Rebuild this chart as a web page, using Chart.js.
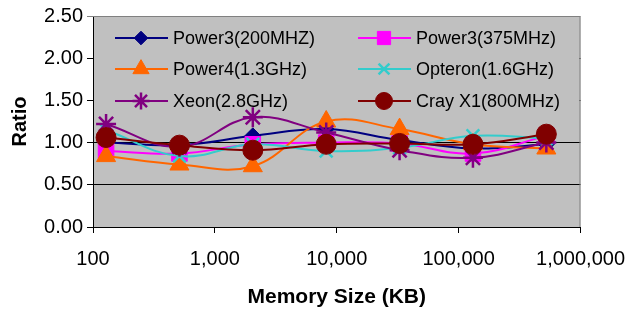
<!DOCTYPE html>
<html>
<head>
<meta charset="utf-8">
<script src="https://cdn.jsdelivr.net/npm/chart.js@4.4.0/dist/chart.umd.min.js"></script>
<style>
  body { margin: 0; background: #fff; }
  #wrap { width: 639px; height: 310px; }
</style>
</head>
<body>
<div id="wrap"><canvas id="ratioChart"></canvas></div>
<script>
// memory sizes in KB
const memSizes = [128, 512, 2048, 8192, 32768, 131072, 524288];

const power3_200 = [1.00, 0.97, 1.08, 1.16, 1.03, 0.93, 0.98];
const power3_375 = [0.90, 0.87, 0.98, 1.00, 0.99, 0.87, 1.08];
const power4 = [0.84, 0.74, 0.72, 1.25, 1.16, 0.98, 0.93];
const opteron = [1.15, 0.84, 0.98, 0.90, 0.94, 1.08, 1.05];
const xeon = [1.22, 0.95, 1.30, 1.12, 0.91, 0.82, 1.00];
const crayX1 = [1.06, 0.97, 0.91, 0.98, 0.99, 0.98, 1.10];

const xTicks = [100, 1000, 10000, 100000, 1000000];
const yMin = 0, yMax = 2.5, yStep = 0.5;

function serie(label, values, color, style, radius, bw) {
    return {
        label: label,
        data: values.map((v, i) => ({ x: memSizes[i], y: v })),
        borderColor: color,
        backgroundColor: color,
        pointBackgroundColor: color,
        pointBorderColor: color,
        pointStyle: style,
        pointRadius: radius,
        pointBorderWidth: bw,
        borderWidth: 2,
        tension: 0.4
    };
}

const datasets = [
    serie('Power3(200MHZ)', power3_200, '#000080', 'rectRot', 8, 1),
    serie('Power3(375MHz)', power3_375, '#FF00FF', 'rect', 11, 1),
    serie('Power4(1.3GHz)', power4, '#FF6600', 'triangle', 11, 1),
    serie('Opteron(1.6GHz)', opteron, '#33CCCC', 'crossRot', 9, 2.5),
    serie('Xeon(2.8GHz)', xeon, '#800080', 'star', 10, 2.5),
    serie('Cray X1(800MHz)', crayX1, '#800000', 'circle', 10, 1)
];
// later series on top, like the original
datasets.forEach((d, i) => { d.order = datasets.length - 1 - i; });

// grey plot area + top/right border
const plotBg = {
    id: 'plotBg',
    beforeDraw(chart) {
        const { ctx, chartArea: a } = chart;
        ctx.save();
        ctx.fillStyle = '#C0C0C0';
        ctx.fillRect(a.left, a.top, a.right - a.left, a.bottom - a.top);
        ctx.restore();
    },
    afterDraw(chart) {
        const { ctx, chartArea: a } = chart;
        ctx.save();
        ctx.strokeStyle = '#808080';
        ctx.lineWidth = 1;
        ctx.beginPath();
        ctx.moveTo(a.left, a.top + 0.5);
        ctx.lineTo(a.right - 0.5, a.top + 0.5);
        ctx.lineTo(a.right - 0.5, a.bottom);
        ctx.stroke();
        ctx.restore();
    }
};

// legend inside the plot, two columns
const insideLegend = {
    id: 'insideLegend',
    beforeDatasetsDraw(chart) {
        const { ctx, chartArea: a } = chart;
        ctx.save();
        ctx.fillStyle = '#C0C0C0';
        ctx.fillRect(a.left + 1, a.top + 1, a.right - a.left - 2, 97);
        const cols = [a.left + 22, a.left + 265];
        const rows = [a.top + 22, a.top + 53, a.top + 85];
        chart.data.datasets.forEach((ds, i) => {
            const x0 = cols[i % 2], y = rows[Math.floor(i / 2)];
            ctx.strokeStyle = ds.borderColor;
            ctx.lineWidth = 2;
            ctx.beginPath();
            ctx.moveTo(x0, y);
            ctx.lineTo(x0 + 53, y);
            ctx.stroke();
            ctx.fillStyle = ds.pointBackgroundColor;
            ctx.lineWidth = ds.pointBorderWidth;
            Chart.helpers.drawPoint(ctx, {
                pointStyle: ds.pointStyle, rotation: 0,
                radius: ds.pointRadius * 0.85, borderWidth: ds.pointBorderWidth
            }, x0 + 26, y);
            ctx.fillStyle = '#000';
            ctx.font = '18px Arial, "Liberation Sans"';
            ctx.textBaseline = 'middle';
            ctx.textAlign = 'left';
            ctx.fillText(ds.label, x0 + 58, y + 1);
        });
        ctx.restore();
    }
};

Chart.defaults.font.family = 'Arial, "Liberation Sans", sans-serif';
Chart.defaults.color = '#000';

new Chart(document.getElementById('ratioChart'), {
    type: 'line',
    data: { datasets: datasets },
    options: {
        responsive: true,
        maintainAspectRatio: false,
        animation: false,
        layout: { padding: { top: 15, right: 49, bottom: 0, left: 0 } },
        plugins: {
            legend: { display: false },
            tooltip: { enabled: false }
        },
        scales: {
            x: {
                type: 'logarithmic',
                min: xTicks[0],
                max: xTicks[xTicks.length - 1],
                afterBuildTicks: s => { s.ticks = xTicks.map(v => ({ value: v })); },
                afterFit: s => { s.height = 83; },
                ticks: {
                    autoSkip: false,
                    maxRotation: 0,
                    padding: 14,
                    font: { size: 20 },
                    callback: v => Number(v).toLocaleString('en-US')
                },
                grid: { drawOnChartArea: false, tickLength: 6, color: '#000' },
                border: { color: '#000', width: 1 },
                title: {
                    display: true,
                    text: 'Memory Size (KB)',
                    font: { size: 21, weight: 'bold' },
                    padding: { top: 0, bottom: 0 }
                }
            },
            y: {
                min: yMin,
                max: yMax,
                afterFit: s => { s.width = 93; },
                ticks: {
                    stepSize: yStep,
                    padding: 4,
                    font: { size: 20 },
                    callback: v => v.toFixed(2)
                },
                grid: {
                    tickLength: 6,
                    color: c => (c.tick && c.tick.value === yMax) ? '#808080' : '#000'
                },
                border: { color: '#000', width: 1 },
                title: {
                    display: true,
                    text: 'Ratio',
                    font: { size: 20, weight: 'bold' },
                    padding: { top: 8, bottom: 0 }
                }
            }
        }
    },
    plugins: [plotBg, insideLegend]
});
</script>
</body>
</html>
